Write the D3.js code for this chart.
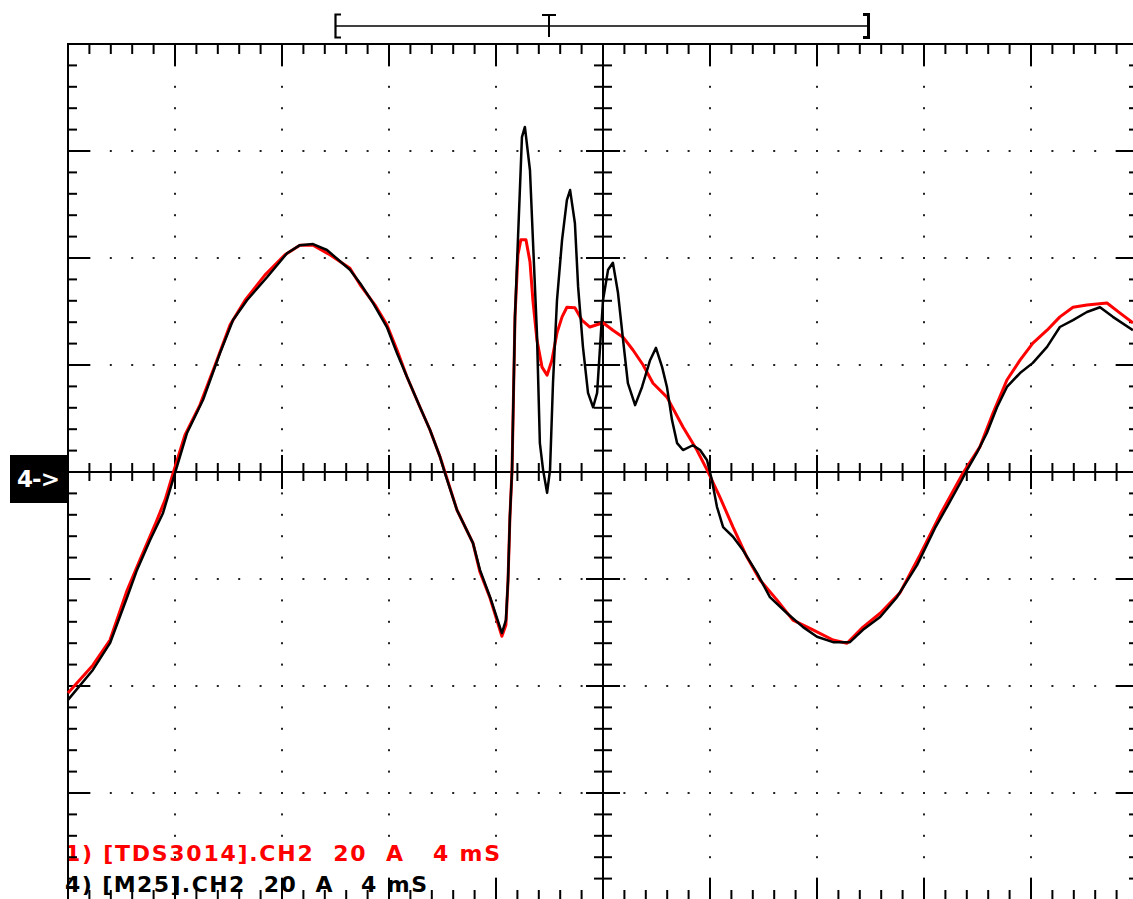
<!DOCTYPE html>
<html>
<head>
<meta charset="utf-8">
<script src="https://cdn.jsdelivr.net/npm/d3@7"></script>
<style>
  html, body { margin: 0; padding: 0; background: #fff; }
  svg text { white-space: pre; }
</style>
</head>
<body>
<svg id="scope" width="1133" height="899"></svg>
<script>
// scope settings: 4 ms/div, 20 A/div, 10 x 8 divisions
var timeDomain = [0, 40];
var ampDomain = [-80, 80];

// 1) TDS3014 channel (red) -- time in ms, current in A
var tdsTime = [0.00, 0.93, 1.57, 2.21, 2.69, 3.25, 3.63, 3.93, 4.37, 4.93, 5.50, 6.06, 6.62, 7.36, 8.11, 8.67,
  9.16, 9.79, 10.54, 10.92, 11.48, 11.92, 12.30, 12.67, 13.16, 13.53, 13.91, 14.09, 14.54, 15.14, 15.40,
  15.78, 16.22, 16.37, 16.45, 16.52, 16.60, 16.71, 16.82, 16.93, 17.12, 17.27, 17.38, 17.53, 17.72, 17.91,
  18.09, 18.28, 18.47, 18.65, 18.95, 19.21, 19.51, 20.00, 20.37, 20.75, 21.12, 21.50, 21.87, 22.39, 22.99,
  23.51, 23.89, 24.37, 24.86, 25.38, 25.87, 26.50, 27.10, 27.85, 28.60, 29.12, 29.72, 30.36, 31.10, 31.85,
  32.60, 33.46, 34.09, 34.58, 35.10, 35.59, 36.07, 36.60, 37.08, 37.57, 38.09, 38.84, 39.33, 39.81];
var tdsCurrent = [-41.3, -36.1, -31.4, -22.1, -16.4, -9.9, -5.2, -0.2, 6.9, 12.5, 20.0, 27.5, 32.1, 36.8, 40.6, 42.4,
  42.4, 40.6, 38.1, 35.0, 31.2, 27.5, 22.8, 17.8, 12.1, 7.9, 2.8, 0.0, -7.1, -13.3, -18.7,
  -23.6, -30.7, -28.6, -20.2, -8.4, 0.4, 29.0, 40.6, 43.4, 43.4, 39.3, 32.1, 24.7, 19.6, 18.1,
  20.9, 26.0, 29.0, 30.8, 30.7, 28.4, 27.1, 27.9, 26.5, 25.2, 22.8, 20.0, 16.6, 14.0, 8.4,
  4.1, 0.4, -4.7, -10.3, -15.9, -20.2, -23.9, -27.7, -29.5, -31.4, -32.0, -29.0, -26.4, -22.6, -15.5,
  -8.0, -0.2, 4.7, 11.0, 17.2, 20.9, 24.1, 26.5, 29.0, 30.8, 31.2, 31.6, 29.7, 27.9];

// 4) M25 channel (black)
var m25Time = [0.00, 0.93, 1.57, 2.21, 2.58, 3.07, 3.55, 4.00, 4.45, 5.05, 5.68, 6.17, 6.69, 7.44, 8.19, 8.67,
  9.16, 9.68, 10.54, 10.92, 11.40, 11.92, 12.30, 12.67, 13.16, 13.53, 13.91, 14.09, 14.54, 15.14, 15.40,
  15.78, 16.22, 16.37, 16.45, 16.52, 16.60, 16.71, 16.82, 16.97, 17.08, 17.27, 17.38, 17.53, 17.64, 17.76,
  17.91, 18.02, 18.13, 18.28, 18.47, 18.65, 18.77, 18.95, 19.07, 19.25, 19.44, 19.63, 19.78, 19.89, 20.00,
  20.19, 20.37, 20.56, 20.75, 20.93, 21.20, 21.46, 21.76, 21.98, 22.21, 22.39, 22.58, 22.77, 22.99, 23.36,
  23.63, 23.89, 24.07, 24.26, 24.49, 24.86, 25.23, 25.76, 26.24, 26.88, 27.48, 28.00, 28.60, 29.23, 29.72,
  30.36, 30.99, 31.74, 32.41, 32.86, 33.35, 33.61, 33.98, 34.35, 34.73, 35.10, 35.59, 36.07, 36.60, 37.08,
  37.57, 38.09, 38.58, 39.06, 39.81];
var m25Current = [-42.6, -37.0, -32.0, -23.4, -18.3, -12.7, -7.7, -0.2, 7.3, 13.5, 22.2, 28.4, 32.1, 36.4, 40.9, 42.4,
  42.6, 41.5, 37.8, 35.3, 31.6, 27.1, 22.2, 17.8, 12.1, 7.9, 2.8, -0.2, -7.1, -13.3, -18.3,
  -23.4, -30.1, -27.7, -20.2, -8.4, 0.4, 29.0, 43.4, 62.6, 64.5, 56.4, 43.4, 26.0, 5.4, 0.4,
  -3.9, 0.4, 16.6, 32.1, 43.4, 50.8, 52.7, 46.5, 34.6, 23.4, 14.8, 12.1, 14.8, 23.4, 32.1,
  37.8, 39.1, 33.5, 24.7, 16.6, 12.5, 15.9, 20.9, 23.2, 19.6, 15.9, 9.7, 5.4, 4.1, 5.0,
  4.1, 2.2, -1.5, -6.5, -10.3, -12.1, -14.6, -18.9, -23.4, -26.4, -29.0, -30.8, -31.8, -31.8, -29.5,
  -27.1, -23.4, -17.4, -10.5, -6.5, -2.1, 0.4, 3.6, 7.3, 12.1, 15.9, 18.5, 20.4, 23.4, 27.1,
  28.4, 29.9, 30.8, 29.0, 26.5];

var legendRed = "1) [TDS3014].CH2  20  A   4 mS";
var legendBlack = "4) [M25].CH2  20  A   4 mS";
var markerLabel = "4->";

var svg = d3.select("#scope");
// screen edges (right and bottom fall just outside the 1133x899 picture)
var scrL = 68, scrT = 44, scrR = 1138, scrB = 900;

var x = d3.scaleLinear().domain(timeDomain).range([scrL, scrR]);
var y = d3.scaleLinear().domain(ampDomain).range([scrB, scrT]);

svg.append("rect").attr("width", 1133).attr("height", 899).attr("fill", "#fff");

// minor steps: 5 per division
var xMinor = d3.range(0, 51).map(function(i) { return {v: i * 0.8, major: i % 5 == 0, i: i}; });
var yMinor = d3.range(0, 41).map(function(j) { return {v: -80 + j * 4, major: j % 5 == 0, j: j}; });

// dotted graticule
var dots = svg.append("g").attr("fill", "#222");
xMinor.filter(function(d) { return d.major && d.i != 0 && d.i != 25 && d.i != 50; }).forEach(function(cx) {
  yMinor.forEach(function(cy) {
    dots.append("rect").attr("x", x(cx.v) - 1).attr("y", y(cy.v) - 1).attr("width", 2).attr("height", 2);
  });
});
yMinor.filter(function(d) { return d.major && d.j != 0 && d.j != 20 && d.j != 40; }).forEach(function(cy) {
  xMinor.forEach(function(cx) {
    dots.append("rect").attr("x", x(cx.v) - 1).attr("y", y(cy.v) - 1).attr("width", 2).attr("height", 2);
  });
});

// legend text (drawn under the frame, the "1" gets cut by the border)
svg.append("text").attr("x", 65).attr("y", 861)
  .attr("fill", "#ff0000").attr("font-family", "DejaVu Sans, sans-serif")
  .attr("font-weight", "bold").attr("font-size", 22)
  .attr("textLength", 435).attr("lengthAdjust", "spacing")
  .text(legendRed);
svg.append("text").attr("x", 65).attr("y", 892)
  .attr("fill", "#000").attr("font-family", "DejaVu Sans, sans-serif")
  .attr("font-weight", "bold").attr("font-size", 22)
  .attr("textLength", 362).attr("lengthAdjust", "spacing")
  .text(legendBlack);

var frame = svg.append("g").attr("stroke", "#000").attr("stroke-width", 2).attr("fill", "none");

// center axes
frame.append("line").attr("x1", scrL).attr("x2", scrR).attr("y1", y(0)).attr("y2", y(0));
frame.append("line").attr("x1", x(20)).attr("x2", x(20)).attr("y1", scrT).attr("y2", scrB);

xMinor.forEach(function(d) {
  var h = d.major ? 17 : 9;
  frame.append("line").attr("x1", x(d.v)).attr("x2", x(d.v)).attr("y1", y(0) - h).attr("y2", y(0) + h);
  var t = d.major ? 22 : 10;
  frame.append("line").attr("x1", x(d.v)).attr("x2", x(d.v)).attr("y1", scrT).attr("y2", scrT + t);
  frame.append("line").attr("x1", x(d.v)).attr("x2", x(d.v)).attr("y1", scrB).attr("y2", scrB - t);
});
yMinor.forEach(function(d) {
  var h = d.major ? 17 : 9;
  frame.append("line").attr("x1", x(20) - h).attr("x2", x(20) + h).attr("y1", y(d.v)).attr("y2", y(d.v));
  var t = d.major ? 22 : 9;
  frame.append("line").attr("x1", scrL).attr("x2", scrL + t).attr("y1", y(d.v)).attr("y2", y(d.v));
  frame.append("line").attr("x1", scrR).attr("x2", scrR - t).attr("y1", y(d.v)).attr("y2", y(d.v));
});

frame.append("rect").attr("x", scrL).attr("y", scrT).attr("width", scrR - scrL).attr("height", scrB - scrT);

// traces
var line = d3.line().x(function(d) { return x(d[0]); }).y(function(d) { return y(d[1]); });
var tds = d3.zip(tdsTime, tdsCurrent);
var m25 = d3.zip(m25Time, m25Current);

svg.append("path").datum(tds).attr("d", line)
  .attr("fill", "none").attr("stroke", "#ff0000").attr("stroke-width", 3).attr("stroke-linejoin", "round");
svg.append("path").datum(m25).attr("d", line)
  .attr("fill", "none").attr("stroke", "#000").attr("stroke-width", 2.5).attr("stroke-linejoin", "round");

// trigger position bracket above the screen
var br = svg.append("g").attr("stroke", "#000").attr("fill", "none");
br.append("line").attr("x1", 335).attr("x2", 869).attr("y1", 26).attr("y2", 26).attr("stroke-width", 1.6);
br.append("path").attr("d", "M341,14.5H335.5V37.5H341").attr("stroke-width", 2.2);
br.append("path").attr("d", "M863,14.5H868.5V37.5H863").attr("stroke-width", 3);
br.append("path").attr("d", "M542,15H556M549,15V37").attr("stroke-width", 2);

// channel 4 ground marker
svg.append("rect").attr("x", 10).attr("y", 455).attr("width", 58).attr("height", 48).attr("fill", "#000");
svg.append("text").attr("x", 17).attr("y", 487)
  .attr("fill", "#fff").attr("font-family", "DejaVu Sans, sans-serif")
  .attr("font-weight", "bold").attr("font-size", 23)
  .attr("textLength", 43).attr("lengthAdjust", "spacing")
  .text(markerLabel);
</script>
</body>
</html>
